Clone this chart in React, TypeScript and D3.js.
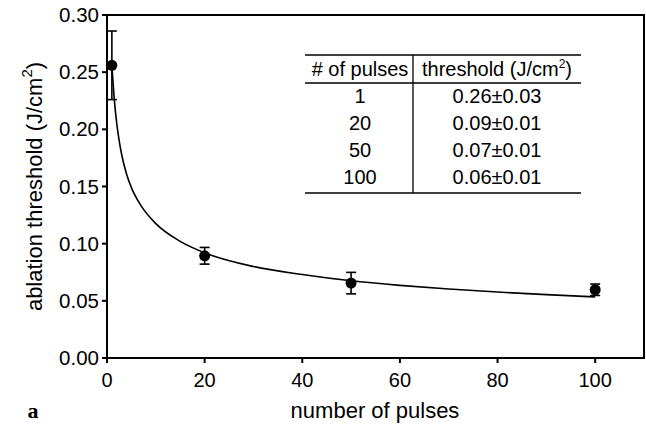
import React from "react";
import * as d3 from "d3";

// Measured data points (number of pulses, threshold, error)
const pulses = [1, 20, 50, 100];
const thresholds = [0.256, 0.0894, 0.0655, 0.0597];
const errors = [0.03, 0.0073, 0.0094, 0.005];

// Fit curve
const fitX = [1, 1.5, 2, 2.5, 3, 4, 5, 7, 10, 15, 20, 30, 40, 50, 60, 70, 80, 90, 100];
const fitY = [0.256, 0.226, 0.205, 0.19, 0.178, 0.161, 0.149, 0.133, 0.1175, 0.102, 0.092, 0.080, 0.073, 0.0675, 0.0635, 0.0603, 0.0577, 0.0554, 0.0534];

const xTicks = [0, 20, 40, 60, 80, 100];
const yTicks = [0, 0.05, 0.1, 0.15, 0.2, 0.25, 0.3];

const tableHeaderLeft = "# of pulses";
const tablePulses = ["1", "20", "50", "100"];
const tableThresholds = ["0.26±0.03", "0.09±0.01", "0.07±0.01", "0.06±0.01"];

const W = 646;
const H = 428;
const FONT = "'Liberation Sans', Arial, Helvetica, sans-serif";

export default function App() {
  const left = 107, right = 644, top = 15, bottom = 358;
  const x = d3.scaleLinear().domain([0, 110]).range([left, right]);
  const y = d3.scaleLinear().domain([0, 0.3]).range([bottom, top]);
  const fmt = d3.format(".2f");

  const fitLine = d3
    .line<number>()
    .x((_, i) => x(fitX[i]))
    .y((d) => y(d))
    .curve(d3.curveMonotoneX)(fitY) as string;

  const stroke = "#000";

  // table geometry
  const tL = 305, tR = 581, tDiv = 413, tTop = 55, tHead = 83, tBot = 193;
  const c1 = 360, c2 = 497;
  const rowBase = [103, 130, 157, 184];

  return (
    <svg
      width={W}
      height={H}
      style={{ position: "absolute", left: 0, top: 0, background: "#fff" }}
      fontFamily={FONT}
    >
      <rect x={0} y={0} width={W} height={H} fill="#fff" />
      {/* frame */}
      <path
        d={`M${left},${top}H${right}V${bottom}H${left}Z`}
        fill="none"
        stroke={stroke}
        strokeWidth={2}
      />
      {/* y ticks */}
      {yTicks.map((t) => (
        <g key={"y" + t}>
          <line x1={left - 5} x2={left} y1={y(t)} y2={y(t)} stroke={stroke} strokeWidth={2} />
          <text x={99} y={y(t) + 7} textAnchor="end" fontSize={20.5}>
            {fmt(t)}
          </text>
        </g>
      ))}
      {/* x ticks */}
      {xTicks.map((t) => (
        <g key={"x" + t}>
          <line x1={x(t)} x2={x(t)} y1={bottom} y2={bottom + 5} stroke={stroke} strokeWidth={2} />
          <text x={x(t)} y={387} textAnchor="middle" fontSize={20}>
            {t}
          </text>
        </g>
      ))}
      {/* axis titles */}
      <text x={375} y={418} textAnchor="middle" fontSize={22}>
        number of pulses
      </text>
      <text
        transform={`translate(42,${(top + bottom) / 2}) rotate(-90)`}
        textAnchor="middle"
        fontSize={22}
      >
        ablation threshold (J/cm
        <tspan fontSize={15} dy={-10}>2</tspan>
        <tspan dy={10}>)</tspan>
      </text>
      <text x={33} y={418} textAnchor="middle" fontSize={22} fontWeight="bold" fontFamily="'Liberation Serif', 'Times New Roman', serif">
        a
      </text>

      {/* fit curve */}
      <path d={fitLine} fill="none" stroke={stroke} strokeWidth={1.6} />

      {/* error bars & points */}
      {pulses.map((p, i) => {
        const cx = x(p);
        const y1 = y(thresholds[i] + errors[i]);
        const y2 = y(thresholds[i] - errors[i]);
        return (
          <g key={"p" + p}>
            <line x1={cx} x2={cx} y1={y1} y2={y2} stroke={stroke} strokeWidth={1.6} />
            <line x1={cx - 5} x2={cx + 5} y1={y1} y2={y1} stroke={stroke} strokeWidth={1.6} />
            <line x1={cx - 5} x2={cx + 5} y1={y2} y2={y2} stroke={stroke} strokeWidth={1.6} />
            <circle cx={cx} cy={y(thresholds[i])} r={5.5} fill="#000" />
          </g>
        );
      })}

      {/* table */}
      <g fontSize={20}>
        <line x1={tL} x2={tR} y1={tTop} y2={tTop} stroke={stroke} strokeWidth={1.6} />
        <line x1={tL} x2={tR} y1={tHead} y2={tHead} stroke={stroke} strokeWidth={1.6} />
        <line x1={tL} x2={tR} y1={tBot} y2={tBot} stroke={stroke} strokeWidth={1.6} />
        <line x1={tDiv} x2={tDiv} y1={tTop} y2={tBot} stroke={stroke} strokeWidth={1.3} />
        <text x={c1} y={76} textAnchor="middle">{tableHeaderLeft}</text>
        <text x={c2} y={76} textAnchor="middle">
          threshold (J/cm
          <tspan fontSize={12} dy={-8}>2</tspan>
          <tspan dy={8}>)</tspan>
        </text>
        {tablePulses.map((p, i) => (
          <text key={"tp" + i} x={c1} y={rowBase[i]} textAnchor="middle">{p}</text>
        ))}
        {tableThresholds.map((v, i) => (
          <text key={"tv" + i} x={c2} y={rowBase[i]} textAnchor="middle">{v}</text>
        ))}
      </g>
    </svg>
  );
}
